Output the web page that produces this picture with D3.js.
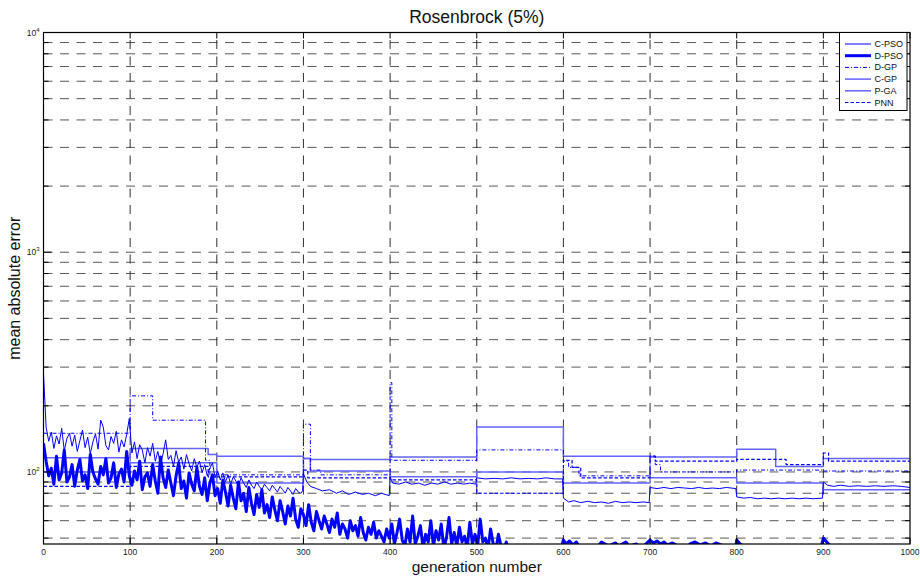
<!DOCTYPE html>
<html>
<head>
<meta charset="utf-8">
<script src="https://cdn.jsdelivr.net/npm/d3@7/dist/d3.min.js"></script>
<style>
  body { margin: 0; background: #fff; }
  svg { display: block; font-family: "Liberation Sans", Arial, sans-serif; }
</style>
</head>
<body>
<svg id="chart" width="920" height="581"></svg>
<script>
// ---- data -------------------------------------------------------------
const titleText = "Rosenbrock (5%)";
const xLabel = "generation number";
const yLabel = "mean absolute error";
const seriesNames = ["C-PSO", "D-PSO", "D-GP", "C-GP", "P-GA", "PNN"];
const xTicks = [0, 100, 200, 300, 400, 500, 600, 700, 800, 900, 1000];
const yDecades = [100, 1000, 10000];
const yMinor = [50, 60, 70, 80, 90, 200, 300, 400, 500, 600, 700, 800, 900,
                2000, 3000, 4000, 5000, 6000, 7000, 8000, 9000];
const xDomain = [0, 1000];
const yDomain = [47, 10000];

// C-PSO, generations 0..297 sampled every 3 generations
const sampleStep = 3;
const cPsoEarly = [
  280, 160, 138, 152, 128, 146, 134, 158, 125, 142,
  150, 131, 147, 124, 139, 155, 129, 144, 121, 137,
  149, 127, 172, 160, 132, 126, 145, 135, 153, 123,
  140, 130, 148, 175, 122, 137, 115, 133, 126, 110,
  129, 118, 135, 112, 124, 108, 121, 140, 114, 119,
  106, 125, 111, 117, 103, 120, 109, 101, 115, 105,
  112, 99, 108, 96, 104, 110, 94, 101, 92, 99,
  90, 97, 88, 95, 91, 86, 94, 89, 85, 92,
  87, 84, 90, 86, 83, 88, 85, 82, 87, 84,
  81, 86, 83, 80, 85, 82, 79, 84, 81, 80];
// C-PSO from generation 299 on: [generation, error]
const cPsoLate = [[299,82],
  [300,98],[304,90],[308,86],[315,84],[322,82],[330,83],[338,80],[345,82],[352,79],[360,81],[368,79],
  [375,80],[383,78],[390,80],[399,78],[400,95],[403,89],[410,88],[418,90],[425,88],[433,89],[440,87],
  [448,89],[455,88],[463,90],[470,88],[478,89],[485,88],[492,89],[499,88],[500,94],[510,93],[520,93.5],
  [530,93],[540,94],[550,93],[560,93.5],[570,93],[580,94],[590,93],[599,93],[600,76],[606,73],[612,74],
  [620,72.5],[628,73.5],[636,72.5],[644,73],[652,72],[660,73.5],[668,72.5],[676,73],[684,72.5],[692,73],
  [699,72.5],[700,85],[708,84],[716,85],[724,84],[732,85],[740,84.5],[748,84],[756,85],[764,84],
  [772,84.5],[780,84],[788,85],[799,84],[800,77],[808,76],[816,76.5],[824,75.5],[832,76],[840,75.5],
  [848,76],[856,75.5],[864,76],[872,75.5],[880,76],[888,75.5],[899,76],[900,90],[905,87],[912,86],
  [920,87],[930,86],[940,86.5],[950,86],[960,86.5],[970,86],[980,86.5],[990,86],[1000,85]];

// D-PSO, generations 0..540 sampled every 3 generations
const dPsoEarly = [
  135, 112, 96, 104, 88, 118, 92, 99, 126, 90,
  95, 108, 86, 102, 114, 91, 97, 84, 120, 100,
  93, 88, 106, 97, 115, 89, 94, 110, 85, 98,
  103, 90, 124, 96, 87, 101, 92, 112, 83, 95,
  99, 86, 108, 91, 80, 117, 94, 85, 102, 89,
  78, 96, 110, 84, 91, 76, 99, 88, 82, 105,
  86, 79, 94, 74, 89, 97, 78, 84, 72, 92,
  81, 70, 87, 76, 68, 90, 74, 80, 66, 85,
  72, 64, 79, 69, 83, 65, 71, 62, 77, 67,
  60, 74, 66, 58, 70, 63, 76, 61, 56, 68,
  64, 57, 71, 59, 54, 66, 60, 55, 63, 58,
  53, 61, 56, 65, 52, 58, 55, 50, 60, 54,
  57, 51, 62, 53, 49, 56, 52, 59, 50, 54,
  51, 48, 55, 50, 58, 47, 53, 61, 49, 46,
  55, 48, 63, 47, 51, 57, 45, 52, 48, 60,
  46, 54, 49, 58, 45, 50, 62, 47, 53, 46,
  56, 48, 51, 45, 59, 47, 52, 46, 61, 48,
  50, 45, 55, 47, 44, 52, 46, 43, 48, 44,
  42];
// D-PSO after generation 540: [generation, error]
const dPsoLate = [[560,42],[596,43],[600,49],[603,47],[607,48.5],[611,46.5],[615,48],[619,45],[640,46],
  [644,48],[648,47],[652,46],[660,47.5],[664,46],[672,48],[676,46],[684,47],[690,45],[700,49],[704,47.5],
  [708,48.5],[712,47],[716,48],[720,46.5],[726,47.5],[732,46],[740,44],[746,47],[752,48],[758,46.5],
  [764,47.5],[770,46],[776,47.5],[782,46.5],[790,44],[798,43],[800,49],[804,47],[808,46],[814,43],
  [896,43],[900,50],[904,48],[908,46],[914,43],[1000,43]];

// Step series: [generation where the level starts, level]
const dGp = [[0,150],[100,222],[126,172],[187,113],[192,97],[300,165],[308,102],[320,97],[400,255],
  [402,113],[500,126],[600,112],[606,105],[618,96],[700,118],[706,108],[712,100],[800,102],[900,101],[1000,101]];
const cGp = [[0,116],[100,128],[190,120],[200,118],[300,115],[308,114],[400,117],[500,160],[600,118],
  [700,117],[800,127],[845,106],[900,115],[1000,115]];
const pGa = [[0,100],[100,110],[200,89],[300,115],[308,101],[400,95],[500,100],[600,89],[700,94],
  [800,89],[900,83],[1000,83]];
const pnn = [[0,86],[100,106],[190,95],[300,102],[305,94],[400,92],[500,80],[600,113],[610,105],[620,94],
  [700,118],[706,112],[800,114],[857,108],[900,122],[906,112],[1000,112]];

// ---- layout -----------------------------------------------------------
const svg = d3.select("#chart");
const plot = { left: 43.5, right: 910, top: 32.5, bottom: 544 };

const x = d3.scaleLinear().domain(xDomain).range([plot.left, plot.right]);
const y = d3.scaleLog().domain(yDomain).range([plot.bottom, plot.top]);

svg.append("defs").append("clipPath").attr("id", "plotClip")
  .append("rect")
  .attr("x", plot.left).attr("y", plot.top)
  .attr("width", plot.right - plot.left).attr("height", plot.bottom - plot.top);

// grid
const grid = svg.append("g").attr("class", "grid");
grid.selectAll("line.h")
  .data(yMinor.concat(yDecades.filter(d => d < yDomain[1])))
  .join("line")
  .attr("x1", plot.left).attr("x2", plot.right)
  .attr("y1", d => y(d)).attr("y2", d => y(d))
  .attr("stroke", "#454545").attr("stroke-width", 0.9)
  .attr("stroke-dasharray", "9,7.5");
grid.selectAll("line.v")
  .data(xTicks.filter(d => d > xDomain[0] && d < xDomain[1]))
  .join("line")
  .attr("x1", d => x(d)).attr("x2", d => x(d))
  .attr("y1", plot.bottom).attr("y2", plot.top)
  .attr("stroke", "#1a1a1a").attr("stroke-width", 0.9)
  .attr("stroke-dasharray", "9,7.5");

// series
const lines = svg.append("g").attr("clip-path", "url(#plotClip)");
const noisy = d3.line().x(d => x(d[0])).y(d => y(d[1]));
const stepped = d3.line().x(d => x(d[0])).y(d => y(d[1])).curve(d3.curveStepAfter);

const cPsoData = cPsoEarly.map((v, i) => [i * sampleStep, v]).concat(cPsoLate);
const dPsoData = dPsoEarly.map((v, i) => [i * sampleStep, v]).concat(dPsoLate);

const styles = {
  "C-PSO": { color: "#0000ff", width: 1, dash: null },
  "D-PSO": { color: "#0000ff", width: 3, dash: null },
  "D-GP":  { color: "#0000ff", width: 1, dash: "4,2,1,2" },
  "C-GP":  { color: "#6464ff", width: 1.5, dash: null },
  "P-GA":  { color: "#6464ff", width: 1.5, dash: null },
  "PNN":   { color: "#0000ff", width: 1.2, dash: "3.5,2" }
};

const drawOrder = [
  ["C-GP", cGp, stepped],
  ["P-GA", pGa, stepped],
  ["PNN", pnn, stepped],
  ["D-GP", dGp, stepped],
  ["C-PSO", cPsoData, noisy],
  ["D-PSO", dPsoData, noisy]
];
drawOrder.forEach(([name, data, gen]) => {
  const s = styles[name];
  lines.append("path")
    .datum(data)
    .attr("fill", "none")
    .attr("stroke", s.color)
    .attr("stroke-width", s.width)
    .attr("stroke-linejoin", "round")
    .attr("stroke-dasharray", s.dash)
    .attr("d", gen);
});

// axes box
svg.append("rect")
  .attr("x", plot.left).attr("y", plot.top)
  .attr("width", plot.right - plot.left).attr("height", plot.bottom - plot.top)
  .attr("fill", "none").attr("stroke", "#000").attr("stroke-width", 1.2);

// ticks (inward, on all four sides)
const ticks = svg.append("g").attr("stroke", "#000").attr("stroke-width", 1);
xTicks.forEach(t => {
  ticks.append("line").attr("x1", x(t)).attr("x2", x(t)).attr("y1", plot.bottom).attr("y2", plot.bottom - 6);
  ticks.append("line").attr("x1", x(t)).attr("x2", x(t)).attr("y1", plot.top).attr("y2", plot.top + 6);
});
yDecades.forEach(t => {
  ticks.append("line").attr("x1", plot.left).attr("x2", plot.left + 8).attr("y1", y(t)).attr("y2", y(t));
  ticks.append("line").attr("x1", plot.right).attr("x2", plot.right - 8).attr("y1", y(t)).attr("y2", y(t));
});
yMinor.forEach(t => {
  ticks.append("line").attr("x1", plot.left).attr("x2", plot.left + 5).attr("y1", y(t)).attr("y2", y(t));
  ticks.append("line").attr("x1", plot.right).attr("x2", plot.right - 5).attr("y1", y(t)).attr("y2", y(t));
});

// tick labels
svg.append("g").selectAll("text")
  .data(xTicks)
  .join("text")
  .attr("x", d => x(d)).attr("y", 555)
  .attr("text-anchor", "middle")
  .attr("font-size", 8.5).attr("fill", "#222")
  .text(d => d);

const yl = svg.append("g").selectAll("text")
  .data(yDecades)
  .join("text")
  .attr("x", 39.5).attr("y", d => y(d) + 3)
  .attr("text-anchor", "end")
  .attr("font-size", 8.5).attr("fill", "#222");
yl.append("tspan").text("10");
yl.append("tspan").attr("font-size", 6).attr("dy", -4).text(d => Math.round(Math.log10(d)));

// title and axis labels
svg.append("text").attr("x", (plot.left + plot.right) / 2).attr("y", 22.5)
  .attr("text-anchor", "middle").attr("font-size", 17.5).attr("fill", "#111").text(titleText);
svg.append("text").attr("x", (plot.left + plot.right) / 2).attr("y", 572)
  .attr("text-anchor", "middle").attr("font-size", 15.5).attr("fill", "#111").text(xLabel);
svg.append("text")
  .attr("transform", `translate(20,${(plot.top + plot.bottom) / 2}) rotate(-90)`)
  .attr("text-anchor", "middle").attr("font-size", 16).attr("fill", "#111").text(yLabel);

// legend
const lg = svg.append("g");
lg.append("rect").attr("x", 839.5).attr("y", plot.top).attr("width", 67.5).attr("height", 78)
  .attr("fill", "#fff").attr("stroke", "#000").attr("stroke-width", 1);
seriesNames.forEach((name, i) => {
  const s = styles[name];
  const yy = 44 + i * 11.7;
  lg.append("line").attr("x1", 845).attr("x2", 871).attr("y1", yy).attr("y2", yy)
    .attr("stroke", s.color).attr("stroke-width", s.width).attr("stroke-dasharray", s.dash);
  lg.append("text").attr("x", 874.5).attr("y", yy + 3).attr("font-size", 9).attr("fill", "#111").text(name);
});
</script>
</body>
</html>
